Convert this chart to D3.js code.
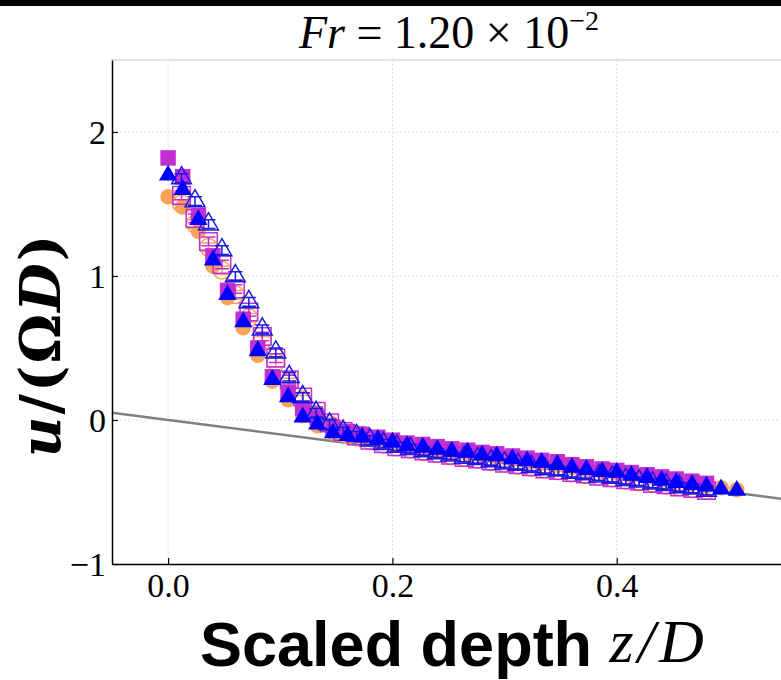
<!DOCTYPE html>
<html>
<head>
<meta charset="utf-8">
<script src="https://cdn.jsdelivr.net/npm/d3@7"></script>
<style>
  body { margin: 0; background: #fff; }
  svg { display: block; }
</style>
</head>
<body>
<svg id="chart"></svg>
<script>
var W = 781, H = 680
var margin = {top: 60, left: 112, bottom: 564, right: 785}

// depth grid of the filled markers and of the open markers
var zFill = [0, 0.013, 0.027, 0.040, 0.053, 0.067, 0.080, 0.093, 0.107, 0.120, 0.133, 0.147, 0.160,
  0.173, 0.187, 0.200, 0.213, 0.227, 0.240, 0.253, 0.267, 0.280, 0.293, 0.307, 0.320, 0.333, 0.347,
  0.360, 0.373, 0.387, 0.400, 0.413, 0.427, 0.440, 0.453, 0.467, 0.480, 0.493, 0.507]
var zOpen = [0.012, 0.024, 0.036, 0.048, 0.060, 0.072, 0.084, 0.096, 0.108, 0.120, 0.132, 0.144,
  0.156, 0.168, 0.180, 0.192, 0.204, 0.216, 0.228, 0.240, 0.252, 0.264, 0.276, 0.288, 0.300, 0.312,
  0.324, 0.336, 0.348, 0.360, 0.372, 0.384, 0.396, 0.408, 0.420, 0.432, 0.444, 0.456, 0.468, 0.480]

var circFill = [1.55, 1.48, 1.31, 1.07, 0.85, 0.64, 0.45, 0.27, 0.14, 0.03, -0.04, -0.09, -0.115,
  -0.13, -0.145, -0.165, -0.185, -0.20, -0.21, -0.225, -0.235, -0.25, -0.26, -0.275, -0.29, -0.30,
  -0.315, -0.33, -0.345, -0.36, -0.37, -0.385, -0.40, -0.415, -0.43, -0.445, -0.46, -0.47, -0.485]
var circOpen = [1.50, 1.36, 1.20, 1.04, 0.87, 0.71, 0.55, 0.40, 0.26, 0.14, 0.04, -0.03, -0.09,
  -0.12, -0.145, -0.17, -0.19, -0.205, -0.22, -0.235, -0.25, -0.26, -0.275, -0.29, -0.30, -0.315,
  -0.33, -0.34, -0.355, -0.37, -0.38, -0.39, -0.405, -0.42, -0.43, -0.44, -0.455, -0.465, -0.48, -0.49]
var sqFill = [1.82, 1.69, 1.42, 1.14, 0.90, 0.70, 0.50, 0.30, 0.19, 0.08, 0.02, -0.05, -0.08, -0.10,
  -0.12, -0.14, -0.16, -0.17, -0.185, -0.20, -0.21, -0.225, -0.235, -0.25, -0.265, -0.28, -0.29,
  -0.31, -0.325, -0.34, -0.35, -0.365, -0.38, -0.395, -0.41, -0.425, -0.44]
var sqOpen = [1.56, 1.40, 1.24, 1.08, 0.91, 0.75, 0.58, 0.43, 0.28, 0.16, 0.06, -0.02, -0.08, -0.11,
  -0.14, -0.165, -0.185, -0.20, -0.215, -0.23, -0.245, -0.26, -0.27, -0.285, -0.30, -0.31, -0.325,
  -0.34, -0.35, -0.365, -0.375, -0.39, -0.40, -0.415, -0.425, -0.44, -0.45, -0.465, -0.475, -0.49]
var triFill = [1.70, 1.60, 1.39, 1.11, 0.87, 0.68, 0.48, 0.28, 0.16, 0.02, -0.03, -0.09, -0.11, -0.12,
  -0.135, -0.155, -0.18, -0.19, -0.205, -0.22, -0.225, -0.245, -0.25, -0.27, -0.285, -0.295, -0.31,
  -0.33, -0.345, -0.36, -0.365, -0.385, -0.40, -0.42, -0.435, -0.45, -0.46, -0.48, -0.49]
var triOpen = [1.68, 1.52, 1.36, 1.18, 1.00, 0.82, 0.63, 0.47, 0.30, 0.16, 0.05, -0.03, -0.08, -0.11,
  -0.14, -0.165, -0.185, -0.20, -0.215, -0.23, -0.245, -0.26, -0.27, -0.285, -0.30, -0.31, -0.325,
  -0.34, -0.35, -0.365, -0.375, -0.39, -0.40, -0.415, -0.425, -0.44, -0.45, -0.465, -0.475, -0.49]
var errOpen = 0.03

var xTicks = [0.0, 0.2, 0.4]
var yTicks = [-1, 0, 1, 2]
var lineZ = [-0.05, 0.55]   // reference line u = -z

var orange = "#f7a35a", magenta = "#c12fd2", blue = "#0000ff", navy = "#1a1ae0"

var svg = d3.select("#chart").attr("width", W).attr("height", H)

var x = d3.scaleLinear().domain([-0.05, 0.55]).range([margin.left, margin.right])
var y = d3.scaleLinear().domain([-1, 2.5]).range([margin.bottom, margin.top])

// top black strip
svg.append("rect").attr("x", 0).attr("y", 0).attr("width", W).attr("height", 6).attr("fill", "#000")

// grid
svg.append("g").selectAll("line").data(xTicks).join("line")
  .attr("x1", d => x(d)).attr("x2", d => x(d))
  .attr("y1", margin.top).attr("y2", margin.bottom)
  .attr("stroke", "#dedede").attr("stroke-dasharray", "2,2")
svg.append("g").selectAll("line").data(yTicks.slice(1)).join("line")
  .attr("x1", margin.left).attr("x2", margin.right)
  .attr("y1", d => y(d)).attr("y2", d => y(d))
  .attr("stroke", "#dedede").attr("stroke-dasharray", "2,2")
svg.append("line").attr("x1", margin.left).attr("x2", margin.right)
  .attr("y1", margin.top).attr("y2", margin.top).attr("stroke", "#c8c8c8")

var plot = svg.append("g")

// reference line
plot.append("line")
  .attr("x1", x(lineZ[0])).attr("y1", y(-lineZ[0]))
  .attr("x2", x(lineZ[1])).attr("y2", y(-lineZ[1]))
  .attr("stroke", "#808080").attr("stroke-width", 2.5)

function series(zs, us, shape, size, color, filled) {
  var g = plot.append("g")
  var pts = us.map((u, i) => [zs[i], u])
  if (!filled) {
    g.selectAll(".eb").data(pts).join("path")
      .attr("d", d => {
        var cx = x(d[0]), t = y(d[1] + errOpen), b = y(d[1] - errOpen)
        return "M" + cx + "," + t + "V" + b +
          "M" + (cx - 7) + "," + t + "H" + (cx + 7) +
          "M" + (cx - 7) + "," + b + "H" + (cx + 7)
      })
      .attr("stroke", color).attr("stroke-width", 1.5).attr("fill", "none")
  }
  g.selectAll(".m").data(pts).join("path")
    .attr("transform", d => "translate(" + x(d[0]) + "," + y(d[1]) + ")")
    .attr("d", d3.symbol().type(shape).size(size))
    .attr("fill", filled ? color : "none")
    .attr("stroke", filled ? "none" : color)
    .attr("stroke-width", 1.5)
}

series(zFill, circFill, d3.symbolCircle, 190, orange, true)
series(zOpen, circOpen, d3.symbolCircle, 240, orange, false)
series(zFill, sqFill, d3.symbolSquare, 240, magenta, true)
series(zOpen, sqOpen, d3.symbolSquare, 310, magenta, false)
series(zOpen, triOpen, d3.symbolTriangle, 170, navy, false)
series(zFill, triFill, d3.symbolTriangle, 145, blue, true)

// axes
var xAxis = svg.append("g").attr("transform", "translate(0," + margin.bottom + ")")
  .call(d3.axisBottom(x).tickValues(xTicks).tickFormat(d3.format(".1f")).tickSizeInner(-6).tickSizeOuter(0).tickPadding(6))
var yAxis = svg.append("g").attr("transform", "translate(" + margin.left + ",0)")
  .call(d3.axisLeft(y).tickValues(yTicks).tickFormat(d => d < 0 ? "\u2212" + (-d) : d).tickSizeInner(-6).tickSizeOuter(0).tickPadding(6))
;[xAxis, yAxis].forEach(a => {
  a.select(".domain").attr("stroke", "#000").attr("stroke-width", 1.5)
  a.selectAll(".tick line").attr("stroke", "#000").attr("stroke-width", 1.2)
  a.selectAll("text").attr("font-family", "'Liberation Serif', serif")
    .attr("font-size", 34).attr("fill", "#000")
})
xAxis.selectAll("text").attr("dy", "0.8em")
yAxis.selectAll("text").attr("dy", "0.35em")

// title
var title = svg.append("text").attr("x", 449).attr("y", 48).attr("text-anchor", "middle")
  .attr("font-family", "'Liberation Serif', serif").attr("font-size", 46)
title.append("tspan").attr("font-style", "italic").text("Fr")
title.append("tspan").text(" = 1.20 \u00d7 10")
title.append("tspan").attr("font-size", 28).attr("dy", -18).text("\u22122")

// y label
var ylab = svg.append("text").attr("transform", "translate(60,345) rotate(-90)")
  .attr("text-anchor", "middle").attr("font-family", "'DejaVu Serif', serif")
  .attr("font-size", 56).attr("font-weight", "bold").attr("letter-spacing", 2)
ylab.append("tspan").attr("font-style", "italic").text("u")
ylab.append("tspan").text("/(\u03a9")
ylab.append("tspan").attr("font-style", "italic").text("D")
ylab.append("tspan").text(")")

// x label
var xlab = svg.append("text").attr("x", 200).attr("y", 666)
xlab.append("tspan").attr("font-family", "'Liberation Sans', sans-serif")
  .attr("font-weight", "bold").attr("font-size", 63).text("Scaled depth ")
xlab.append("tspan").attr("font-family", "'Liberation Serif', serif")
  .attr("font-style", "italic").attr("font-size", 62).attr("letter-spacing", 4).attr("dy", -4).text("z/D")
</script>
</body>
</html>
